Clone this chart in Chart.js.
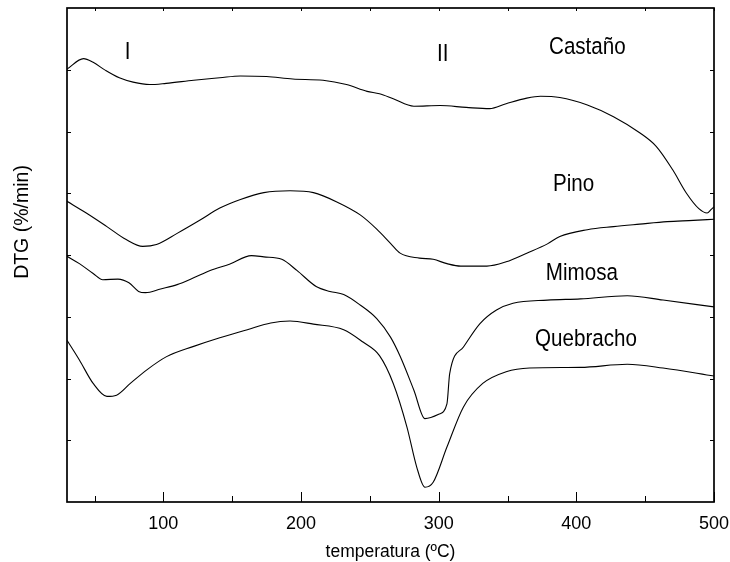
<!DOCTYPE html>
<html>
<head>
<meta charset="utf-8">
<script src="https://cdn.jsdelivr.net/npm/chart.js@4.4.0/dist/chart.umd.min.js"></script>
<style>
  html, body { margin: 0; padding: 0; background: #fff; }
  #wrap { width: 730px; height: 562px; }
</style>
</head>
<body>
<div id="wrap"><canvas id="chart"></canvas></div>
<script>
// ---- data (temperature ºC, DTG in stacked offset units, axis 0..8) ----
const castanoT = [30, 42, 49, 58, 68, 78, 90, 102, 122, 141, 156, 175, 194, 216, 233, 248, 257, 267, 282, 301, 320, 337, 349, 364, 374, 388, 408, 427, 446, 458, 470, 480, 489, 495, 498, 500];
const castanoY = [7.01, 7.18, 7.12, 6.99, 6.87, 6.80, 6.76, 6.78, 6.83, 6.87, 6.90, 6.89, 6.85, 6.83, 6.76, 6.65, 6.61, 6.53, 6.41, 6.42, 6.39, 6.37, 6.45, 6.54, 6.57, 6.55, 6.43, 6.24, 5.98, 5.76, 5.38, 5.00, 4.75, 4.68, 4.74, 4.78];

const pinoT = [30, 44, 59, 73, 85, 95, 110, 127, 141, 156, 173, 192, 209, 226, 243, 255, 265, 272, 286, 296, 306, 316, 335, 349, 364, 379, 388, 408, 427, 446, 466, 485, 500];
const pinoY = [4.87, 4.68, 4.46, 4.25, 4.14, 4.17, 4.35, 4.57, 4.76, 4.90, 5.01, 5.04, 5.01, 4.86, 4.65, 4.42, 4.19, 4.03, 3.95, 3.93, 3.86, 3.82, 3.82, 3.89, 4.03, 4.18, 4.30, 4.41, 4.46, 4.50, 4.54, 4.56, 4.58];

const mimosaT = [30, 39, 49, 56, 67, 75, 82, 87, 98, 110, 122, 134, 148, 164, 173, 186, 197, 211, 221, 231, 243, 255, 265, 272, 282, 290, 300, 306, 308, 318, 330, 342, 354, 379, 403, 437, 463, 500];
const mimosaY = [3.98, 3.86, 3.70, 3.60, 3.61, 3.55, 3.41, 3.39, 3.45, 3.52, 3.63, 3.75, 3.85, 3.99, 3.97, 3.93, 3.75, 3.49, 3.41, 3.36, 3.19, 2.97, 2.67, 2.36, 1.81, 1.35, 1.42, 1.59, 2.08, 2.51, 2.89, 3.11, 3.22, 3.27, 3.29, 3.34, 3.27, 3.16];

const quebrachoT = [30, 39, 49, 59, 66, 76, 88, 102, 122, 141, 161, 178, 192, 209, 231, 245, 257, 267, 277, 284, 290, 296, 306, 318, 332, 349, 366, 403, 437, 463, 500];
const quebrachoY = [2.62, 2.30, 1.92, 1.71, 1.73, 1.92, 2.14, 2.35, 2.52, 2.66, 2.79, 2.90, 2.93, 2.88, 2.79, 2.59, 2.37, 1.92, 1.21, 0.57, 0.24, 0.32, 0.89, 1.54, 1.92, 2.11, 2.17, 2.18, 2.23, 2.17, 2.04];

// axis ticks
const xLabelTicks = [100, 200, 300, 400, 500];
const xMinorTicks = [50, 150, 250, 350, 450];
const yTicks = [1, 2, 3, 4, 5, 6, 7];

// text placed inside the plot (temperature, DTG)
const notes = [
  { text: 'I',         t: 74,  v: 7.29 },
  { text: 'II',        t: 303, v: 7.25 },
  { text: 'Castaño',   t: 408, v: 7.37 },
  { text: 'Pino',      t: 398, v: 5.14 },
  { text: 'Mimosa',    t: 404, v: 3.70 },
  { text: 'Quebracho', t: 407, v: 2.64 },
];

const FONT = "'Liberation Sans', Arial, sans-serif";
const zip = (xs, ys) => xs.map((x, i) => ({ x, y: ys[i] }));
const line = (label, xs, ys) => ({
  label, data: zip(xs, ys), showLine: true, borderColor: '#000', borderWidth: 1.1,
  pointRadius: 0, cubicInterpolationMode: 'monotone', fill: false
});

// frame, inward ticks, y title and curve names
const decor = {
  id: 'decor',
  afterDatasetsDraw(chart) {
    const { ctx, chartArea: a, scales: { x, y } } = chart;
    ctx.save();
    ctx.strokeStyle = '#000';
    ctx.lineWidth = 1;
    ctx.beginPath();
    xLabelTicks.forEach(v => {
      const px = Math.round(x.getPixelForValue(v)) + 0.5;
      ctx.moveTo(px, a.bottom); ctx.lineTo(px, a.bottom - 10);
    });
    xMinorTicks.forEach(v => {
      const px = Math.round(x.getPixelForValue(v)) + 0.5;
      ctx.moveTo(px, a.bottom); ctx.lineTo(px, a.bottom - 6);
    });
    [...xLabelTicks, ...xMinorTicks].forEach(v => {
      const px = Math.round(x.getPixelForValue(v)) + 0.5;
      ctx.moveTo(px, a.top); ctx.lineTo(px, a.top + 3);
    });
    yTicks.forEach(v => {
      const py = Math.round(y.getPixelForValue(v)) + 0.5;
      ctx.moveTo(a.left, py); ctx.lineTo(a.left + 4, py);
      ctx.moveTo(a.right, py); ctx.lineTo(a.right - 4, py);
    });
    ctx.stroke();
    ctx.lineWidth = 1.7;
    ctx.strokeRect(a.left, a.top, a.right - a.left, a.bottom - a.top);

    // curve names, slightly condensed like the original lettering
    ctx.fillStyle = '#000';
    ctx.textAlign = 'center';
    ctx.textBaseline = 'middle';
    ctx.font = '24.5px ' + FONT;
    notes.forEach(n => {
      ctx.save();
      ctx.translate(x.getPixelForValue(n.t), y.getPixelForValue(n.v));
      ctx.scale(0.84, 1);
      ctx.fillText(n.text, 0, 0);
      ctx.restore();
    });

    // y axis title
    ctx.translate(23, 222);
    ctx.rotate(-Math.PI / 2);
    ctx.font = '19.5px ' + FONT;
    ctx.fillText('DTG (%/min)', 0, 0);
    ctx.restore();
  }
};

new Chart(document.getElementById('chart'), {
  type: 'scatter',
  data: {
    datasets: [
      line('Castaño', castanoT, castanoY),
      line('Pino', pinoT, pinoY),
      line('Mimosa', mimosaT, mimosaY),
      line('Quebracho', quebrachoT, quebrachoY),
    ]
  },
  options: {
    responsive: true,
    maintainAspectRatio: false,
    animation: false,
    layout: { padding: { top: 8, right: 16, left: 0, bottom: 0 } },
    plugins: { legend: { display: false }, tooltip: { enabled: false } },
    scales: {
      x: {
        type: 'linear', min: 30, max: 500,
        afterBuildTicks: s => { s.ticks = xLabelTicks.map(v => ({ value: v })); },
        afterFit: s => { s.height = 60; s.paddingLeft = 0; s.paddingRight = 0; },
        grid: { display: false, drawTicks: false },
        border: { display: false },
        ticks: { color: '#000', padding: 11, maxRotation: 0, font: { family: FONT, size: 18 } },
        title: { display: true, text: 'temperatura (ºC)', color: '#000',
                 padding: { top: 0, bottom: 0 }, font: { family: FONT, size: 17.5, lineHeight: 1.1 } }
      },
      y: {
        type: 'linear', min: 0, max: 8,
        afterFit: s => { s.width = 67; },
        grid: { display: false, drawTicks: false },
        border: { display: false },
        ticks: { display: false },
        title: { display: false }
      }
    }
  },
  plugins: [decor]
});
</script>
</body>
</html>
